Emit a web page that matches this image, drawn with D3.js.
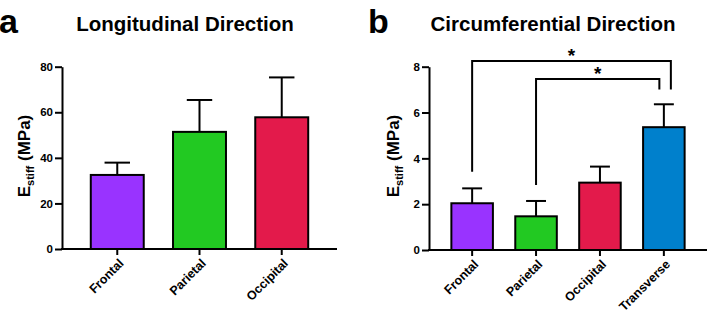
<!DOCTYPE html>
<html><head><meta charset="utf-8">
<script src="https://cdn.jsdelivr.net/npm/d3@7"></script>
<style>
body{margin:0;background:#fff;}
svg text{font-family:"Liberation Sans",Arial,sans-serif;font-weight:bold;fill:#000;}
</style></head>
<body><svg id="c" width="709" height="315"></svg>
<script>
// Panel a: Longitudinal
const catsA = ["Frontal","Parietal","Occipital"];
const meanA = [32.5, 51.4, 57.8];
const sdA   = [5.4, 14.0, 17.5];
const ticksA = [0,20,40,60,80];
// Panel b: Circumferential
const catsB = ["Frontal","Parietal","Occipital","Transverse"];
const meanB = [2.04, 1.47, 2.94, 5.36];
const sdB   = [0.65, 0.67, 0.70, 1.00];
const ticksB = [0,2,4,6,8];
const colorsB = ["#9933FF","#22C922","#E31A4B","#0080CC"];
const colorsA = ["#9933FF","#22C922","#E31A4B"];
// significance brackets (panel b)
const brackets = [
  {from:"Frontal", to:"Transverse", level:8.25, leftEnd:3.42, rightEnd:7.0, rightShift:7, label:"*"},
  {from:"Parietal", to:"Transverse", level:7.46, leftEnd:2.84, rightEnd:7.0, rightShift:-4.5, label:"*"}
];

const svg = d3.select("#c");

function panel(opts){
  const g = svg.append("g");
  const x = d3.scaleBand().domain(opts.cats).range(opts.xr).paddingInner(opts.pi).paddingOuter(opts.po);
  const y = d3.scaleLinear().domain([0, opts.ymax]).range(opts.yr);
  const bw = x.bandwidth();
  opts.cats.forEach((c,i)=>{
    const cx = x(c)+bw/2;
    g.append("line").attr("x1",cx).attr("x2",cx).attr("y1",y(opts.mean[i])).attr("y2",y(opts.mean[i]+opts.sd[i]))
      .attr("stroke","#000").attr("stroke-width",2);
    g.append("line").attr("x1",cx-bw*0.24).attr("x2",cx+bw*0.24).attr("y1",y(opts.mean[i]+opts.sd[i])).attr("y2",y(opts.mean[i]+opts.sd[i]))
      .attr("stroke","#000").attr("stroke-width",2);
  });
  g.selectAll("rect.bar").data(opts.cats).enter().append("rect")
    .attr("x",c=>x(c)).attr("width",bw)
    .attr("y",(c,i)=>y(opts.mean[i])).attr("height",(c,i)=>y(0)-y(opts.mean[i]))
    .attr("fill",(c,i)=>opts.colors[i]).attr("stroke","#000").attr("stroke-width",2);
  const ya = g.append("g").attr("transform",`translate(${opts.xr[0]},0)`)
    .call(d3.axisLeft(y).tickValues(opts.ticks).tickSize(7).tickPadding(2).tickSizeOuter(0));
  ya.select(".domain").attr("stroke-width",2);
  ya.selectAll(".tick line").attr("stroke-width",2);
  ya.selectAll("text").style("font-size","11.5px");
  const xa = g.append("g").attr("transform",`translate(0,${opts.yr[0]})`)
    .call(d3.axisBottom(x).tickSize(6).tickSizeOuter(0));
  xa.select(".domain").attr("stroke-width",2).attr("d",`M${opts.xr[0]-1},0H${opts.xr[1]}`);
  xa.selectAll(".tick line").attr("stroke-width",2);
  xa.selectAll("text").style("font-size","12.5px").attr("text-anchor","end")
    .attr("transform","translate(4,12) rotate(-45)").attr("dy","0.35em").attr("y",0);
  const yl = g.append("text").attr("transform",`translate(${opts.ylx},${opts.yly}) rotate(-90)`)
    .attr("text-anchor","middle").style("font-size","17px");
  yl.append("tspan").text("E");
  yl.append("tspan").text("stiff").style("font-size","11px").attr("dy","4");
  yl.append("tspan").text(" (MPa)").attr("dy","-4");
  g.append("text").attr("x",opts.tx).attr("y",31).attr("text-anchor","middle").style("font-size","20.5px").text(opts.title);
  g.append("text").attr("x",opts.lx).attr("y",33).style("font-size","34px").text(opts.letter);
  return {g,x,y,bw};
}

panel({cats:catsA, mean:meanA, sd:sdA, ticks:ticksA, colors:colorsA, ymax:80,
  xr:[62,337], yr:[249,66.7], pi:0.356, po:0.35, ylx:30, yly:156, tx:185, title:"Longitudinal Direction", lx:-1, letter:"a"});

const pb = panel({cats:catsB, mean:meanB, sd:sdB, ticks:ticksB, colors:colorsB, ymax:8,
  xr:[429,707], yr:[250,66.7], pi:0.35, po:0.35, ylx:399, yly:156, tx:553, title:"Circumferential Direction", lx:368, letter:"b"});

brackets.forEach(b=>{
  const x1 = pb.x(b.from)+pb.bw/2, x2 = pb.x(b.to)+pb.bw/2 + b.rightShift;
  const yl = pb.y(b.level);
  pb.g.append("path").attr("d",`M${x1},${pb.y(b.leftEnd)}V${yl}H${x2}V${pb.y(b.rightEnd)}`)
    .attr("fill","none").attr("stroke","#000").attr("stroke-width",2);
  pb.g.append("text").attr("x",(x1+x2)/2).attr("y",yl+1).attr("text-anchor","middle").style("font-size","19px").text(b.label);
});
</script></body></html>
